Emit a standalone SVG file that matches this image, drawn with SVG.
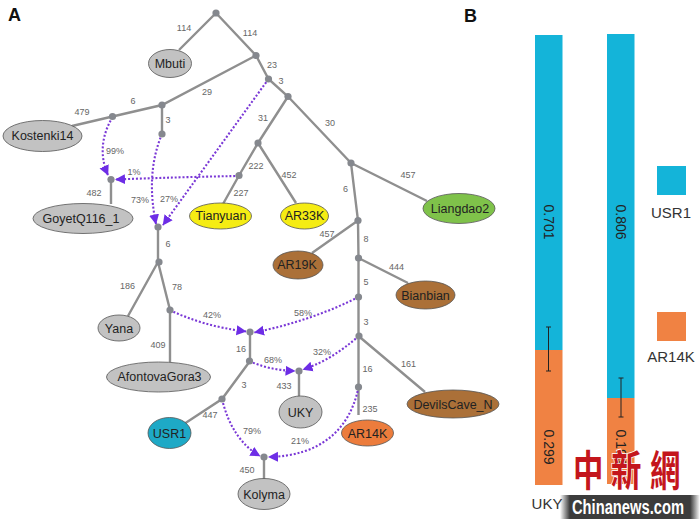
<svg xmlns="http://www.w3.org/2000/svg" width="700" height="519" viewBox="0 0 700 519">
<defs>
<marker id="ah" markerUnits="userSpaceOnUse" markerWidth="11" markerHeight="11" viewBox="0 0 11 11" refX="9.5" refY="5.5" orient="auto"><path d="M0 0.5L10 5.5L0 10.5Z" fill="#6d2de6"/></marker>
<linearGradient id="band" x1="0" x2="1" y1="0" y2="0"><stop offset="0" stop-color="#3c3c3c" stop-opacity="0"/><stop offset="0.07" stop-color="#3c3c3c"/><stop offset="0.93" stop-color="#3c3c3c"/><stop offset="1" stop-color="#3c3c3c" stop-opacity="0"/></linearGradient>
</defs>
<style>
text{font-family:"Liberation Sans",Arial,sans-serif}
.e{stroke:#8f8f8f;stroke-width:2.4;fill:none}
.d{stroke:#7a38d6;stroke-width:2.1;fill:none;stroke-dasharray:2 1.9;marker-end:url(#ah)}
.j{fill:#85888e}
.n{stroke:#555;stroke-width:.8}
.nt{font-size:12.5px;fill:#222;text-anchor:middle;dominant-baseline:central}
.l{font-size:9px;fill:#666;text-anchor:middle;dominant-baseline:central}
.p{font-size:18px;font-weight:bold;fill:#111}
.s{font-size:15px;fill:#333;text-anchor:middle}
.v{font-size:14px;fill:#222;text-anchor:middle;dominant-baseline:central}
.g{fill:#c2c2c2}.y{fill:#f5ec13}.b{fill:#ab7038}
.wm{font-size:38px;font-weight:bold;fill:#c4161c;stroke:#fff;stroke-width:1.5;paint-order:stroke;font-family:"Noto Sans CJK TC",sans-serif}
</style>
<rect width="700" height="519" fill="#fff"/>
<g id="connectors">
<path class="e" d="M216 13L179 50M216 13L256 55.5L268.5 79L288 96.5L351 163L358 220.5L358.5 258V387V415M256 55.5L162 105L112.5 116.5L72 126M162 105V134M111 179.5V204M288 96.5L258 143L239 175.5L223 204M258 143L296 203M351 163L427 201M358 220.5L312 253M358.5 258L408 283M358.5 336L425 392M158 227V262L128 316M158 262L170 310V362M250 332V361L222 399L184 424M299 371V396M264 457V479"/>
<path class="d" d="M112.5 117C102 135 99 155 108 175"/>
<path class="d" d="M239 176Q180 177 115.5 179.5"/>
<path class="d" d="M162 134C151 160 149 190 156 224"/>
<path class="d" d="M268.5 79L163 225"/>
<path class="d" d="M170 310Q202 326 246 331.5"/>
<path class="d" d="M358.5 297C325 314 290 325 254.5 332.5"/>
<path class="d" d="M249.5 361Q268 370 295 371"/>
<path class="d" d="M359 336C340 352 325 362 303 369.5"/>
<path class="d" d="M222 399Q232 440 260 456"/>
<path class="d" d="M358.5 387C350 430 320 456 268.5 457"/>
</g>
<g id="junctions" class="j">
<circle cx="216" cy="13" r="3.6"/><circle cx="256" cy="55.5" r="3.6"/><circle cx="268.5" cy="79" r="3.6"/><circle cx="288" cy="96.5" r="3.6"/><circle cx="162" cy="105" r="3.6"/><circle cx="112.5" cy="116.5" r="3.6"/><circle cx="162" cy="134" r="3.6"/><circle cx="111" cy="179.5" r="3.6"/><circle cx="158" cy="227" r="3.6"/><circle cx="239" cy="175.5" r="3.6"/><circle cx="258" cy="143" r="3.6"/><circle cx="351" cy="163" r="3.6"/><circle cx="358" cy="220.5" r="3.6"/><circle cx="358.5" cy="258" r="3.6"/><circle cx="358.5" cy="297" r="3.6"/><circle cx="359" cy="336" r="3.6"/><circle cx="358.5" cy="387" r="3.6"/><circle cx="159" cy="262" r="3.6"/><circle cx="170" cy="310" r="3.6"/><circle cx="250" cy="332" r="3.6"/><circle cx="249.5" cy="361" r="3.6"/><circle cx="222" cy="399" r="3.6"/><circle cx="299" cy="371" r="3.6"/><circle cx="264" cy="457" r="3.6"/>
</g>
<g id="edge-labels">
<text class="l" x="184" y="28">114</text><text class="l" x="250" y="33">114</text><text class="l" x="272" y="65">23</text><text class="l" x="281" y="81">3</text><text class="l" x="207" y="92">29</text><text class="l" x="263" y="118">31</text><text class="l" x="330" y="123">30</text><text class="l" x="133" y="101">6</text><text class="l" x="82" y="112">479</text><text class="l" x="168" y="119.5">3</text><text class="l" x="115" y="151">99%</text><text class="l" x="134" y="172">1%</text><text class="l" x="256" y="166">222</text><text class="l" x="289" y="175">452</text><text class="l" x="345.5" y="189">6</text><text class="l" x="94" y="193">482</text><text class="l" x="241" y="193">227</text><text class="l" x="140" y="200">73%</text><text class="l" x="169" y="199">27%</text><text class="l" x="168" y="243.5">6</text><text class="l" x="327" y="234">457</text><text class="l" x="408" y="174.5">457</text><text class="l" x="366" y="239">8</text><text class="l" x="396.5" y="267">444</text><text class="l" x="366" y="281.5">5</text><text class="l" x="366" y="322">3</text><text class="l" x="127.5" y="286">186</text><text class="l" x="177" y="286.5">78</text><text class="l" x="212" y="315">42%</text><text class="l" x="303" y="313">58%</text><text class="l" x="158" y="344.5">409</text><text class="l" x="241" y="348.5">16</text><text class="l" x="273" y="360">68%</text><text class="l" x="322" y="352">32%</text><text class="l" x="284" y="386">433</text><text class="l" x="244" y="385">3</text><text class="l" x="210" y="415">447</text><text class="l" x="252" y="431">79%</text><text class="l" x="300" y="441">21%</text><text class="l" x="247" y="469.5">450</text><text class="l" x="408.5" y="363.5">161</text><text class="l" x="367.5" y="369">16</text><text class="l" x="370" y="409">235</text>
</g>
<g id="n-mbuti"><ellipse class="n g" cx="170" cy="63.5" rx="21.5" ry="14"/><text class="nt" x="170" y="64">Mbuti</text></g>
<g id="n-kostenki14"><ellipse class="n g" cx="42.5" cy="136" rx="39.5" ry="15.5"/><text class="nt" x="42.5" y="136">Kostenki14</text></g>
<g id="n-goyet"><ellipse class="n g" cx="83" cy="218.5" rx="50" ry="15"/><text class="nt" x="81" y="219">GoyetQ116_1</text></g>
<g id="n-tianyuan"><ellipse class="n y" cx="220.5" cy="216" rx="31" ry="13"/><text class="nt" x="221" y="216">Tianyuan</text></g>
<g id="n-ar33k"><ellipse class="n y" cx="304.5" cy="216" rx="24" ry="13"/><text class="nt" x="304.5" y="216">AR33K</text></g>
<g id="n-liangdao2"><ellipse class="n" fill="#7fc24a" cx="459" cy="208.5" rx="36" ry="15"/><text class="nt" x="460" y="209">Liangdao2</text></g>
<g id="n-ar19k"><ellipse class="n b" cx="298" cy="265" rx="25" ry="14"/><text class="nt" x="297" y="265">AR19K</text></g>
<g id="n-bianbian"><ellipse class="n b" cx="425.5" cy="295" rx="29.5" ry="14"/><text class="nt" x="425.5" y="295.5">Bianbian</text></g>
<g id="n-yana"><ellipse class="n g" cx="119" cy="328" rx="21" ry="13"/><text class="nt" x="119" y="328.5">Yana</text></g>
<g id="n-afontova"><ellipse class="n g" cx="158.5" cy="377" rx="52" ry="15"/><text class="nt" x="159.5" y="377">AfontovaGora3</text></g>
<g id="n-usr1"><ellipse class="n" fill="#1ea9c6" cx="169.5" cy="433" rx="21.5" ry="15.5"/><text class="nt" x="169.5" y="433.5">USR1</text></g>
<g id="n-uky"><ellipse class="n g" cx="300.5" cy="412" rx="21.5" ry="16"/><text class="nt" x="300.5" y="412.5">UKY</text></g>
<g id="n-kolyma"><ellipse class="n g" cx="264" cy="494" rx="26" ry="15.5"/><text class="nt" x="264" y="494.5">Kolyma</text></g>
<g id="n-ar14k"><ellipse class="n" fill="#ec7c3c" cx="367.5" cy="433" rx="26" ry="13"/><text class="nt" x="367.5" y="433.5">AR14K</text></g>
<g id="n-devilscave"><ellipse class="n b" cx="453" cy="404" rx="46" ry="14"/><text class="nt" x="453" y="405">DevilsCave_N</text></g>
<text class="p" x="8" y="21">A</text>
<text class="p" x="464" y="21.5">B</text>
<g id="bars">
<rect x="535" y="35" width="27.5" height="315" fill="#14b4d9"/><rect x="535" y="350" width="27.5" height="135" fill="#f08243"/>
<rect x="607" y="34" width="27.5" height="364" fill="#14b4d9"/><rect x="607" y="398" width="27.5" height="86" fill="#f08243"/>
<path d="M548.5 327V371M546 327H551M546 371H551M621 378V417M618.5 378H623.5M618.5 417H623.5" stroke="#222" stroke-width="1" fill="none"/>
<text class="v" transform="translate(548.5 222) rotate(90)">0.701</text>
<text class="v" transform="translate(621 222) rotate(90)">0.806</text>
<text class="v" transform="translate(548.5 447) rotate(90)">0.299</text>
<text class="v" transform="translate(621 447) rotate(90)">0.194</text>
<text class="s" x="547" y="509">UKY</text><text class="s" x="621" y="509">Kolyma</text>
<rect x="657" y="166" width="29" height="29" fill="#14b4d9"/><text class="s" x="671" y="218">USR1</text>
<rect x="657" y="312" width="29" height="29" fill="#f08243"/><text class="s" x="671" y="362">AR14K</text>
</g>
<g id="watermark">
<rect x="560" y="495" width="140" height="24" fill="url(#band)"/>
<text x="572" y="514" font-size="20" font-weight="bold" fill="#fff" textLength="112" lengthAdjust="spacingAndGlyphs">Chinanews.com</text>
<text class="wm" transform="translate(573 486) scale(.8 1.12)">中</text><text class="wm" transform="translate(611 486) scale(.8 1.12)">新</text><text class="wm" transform="translate(650 486) scale(.8 1.12)">網</text>
</g>
</svg>
